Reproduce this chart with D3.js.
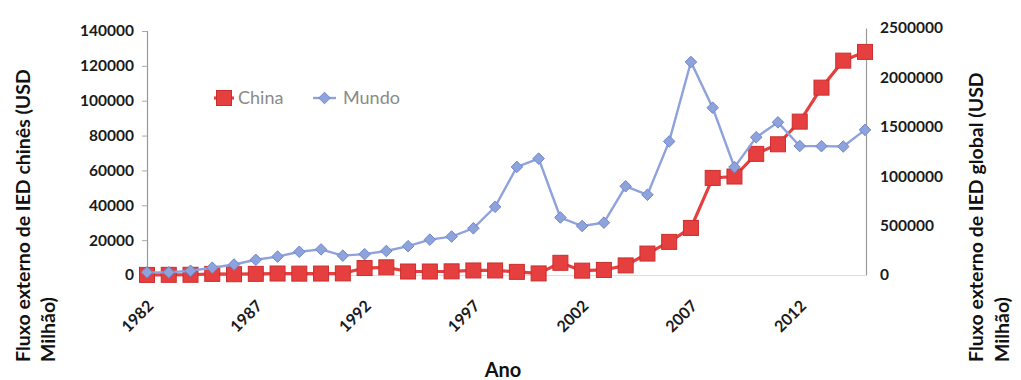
<!DOCTYPE html>
<html>
<head>
<meta charset="utf-8">
<script src="https://cdn.jsdelivr.net/npm/d3@7"></script>
<style>
  html, body { margin: 0; padding: 0; background: #fff; }
  svg { display: block; }
</style>
</head>
<body>
<div id="chart"></div>
<script>
// Outward FDI flows: China (left axis) vs. world (right axis), USD million
const years = [1982, 1983, 1984, 1985, 1986, 1987, 1988, 1989, 1990, 1991,
               1992, 1993, 1994, 1995, 1996, 1997, 1998, 1999, 2000, 2001,
               2002, 2003, 2004, 2005, 2006, 2007, 2008, 2009, 2010, 2011,
               2012, 2013, 2014, 2015];

const china = [50, 100, 130, 630, 450, 650, 850, 780, 830, 910,
               4000, 4400, 2000, 2000, 2100, 2600, 2600, 1800, 900, 7000,
               2500, 2900, 5500, 12300, 19000, 27000, 55700, 56500, 69500, 75000,
               88000, 107500, 123000, 128000];

const mundo = [27000, 27000, 43000, 74000, 106000, 154000, 186000, 235000, 259000, 196000,
               211000, 243000, 292000, 358000, 389000, 473000, 690000, 1094000, 1178000, 582000,
               496000, 530000, 898000, 812000, 1352000, 2156000, 1693000, 1092000, 1394000, 1545000,
               1306000, 1304000, 1300000, 1469000];

const leftTicks = [0, 20000, 40000, 60000, 80000, 100000, 120000, 140000];
const rightTicks = [0, 500000, 1000000, 1500000, 2000000, 2500000];
const yearTicks = [1982, 1987, 1992, 1997, 2002, 2007, 2012];

const seriesNames = ["China", "Mundo"];
const leftTitle = ["Fluxo externo de IED chinês (USD", "Milhão)"];
const rightTitle = ["Fluxo externo de IED global (USD", "Milhão)"];
const xTitle = "Ano";

const W = 1021, H = 380;
const plot = { left: 147, right: 865, top: 28, bottom: 275 };

const RED = "#e5403f", RED_DARK = "#cc2e2e";
const BLUE = "#8ea2dc", BLUE_DARK = "#6f87cc";
const FONT = "Lato, 'Open Sans', sans-serif";

const svg = d3.select("#chart").append("svg")
  .attr("width", W).attr("height", H)
  .style("background", "#fff");

const x = d3.scalePoint().domain(years).range([plot.left, plot.right]);
const yL = d3.scaleLinear().domain([0, 140000]).range([plot.bottom, plot.top + 3]);
const yR = d3.scaleLinear().domain([0, 2500000]).range([plot.bottom, plot.top]);

// Left axis
const axL = svg.append("g")
  .attr("transform", `translate(${plot.left},0)`)
  .call(d3.axisLeft(yL).tickValues(leftTicks).tickFormat(d3.format("d")).tickSize(5).tickPadding(8));
axL.select(".domain").attr("stroke", "#999").attr("stroke-width", 1.2);
axL.selectAll(".tick line").attr("stroke", "#aaa");
axL.selectAll(".tick text")
  .attr("font-family", FONT).attr("font-weight", 700).attr("font-size", 15.5).attr("fill", "#1a1a1a");

// Right axis
const axR = svg.append("g")
  .attr("transform", `translate(${plot.right + 1},0)`)
  .call(d3.axisRight(yR).tickValues(rightTicks).tickFormat(d3.format("d")).tickSize(0).tickPadding(14));
axR.select(".domain").attr("stroke", "#999").attr("stroke-width", 1.2);
axR.selectAll(".tick text")
  .attr("font-family", FONT).attr("font-weight", 700).attr("font-size", 15.5).attr("fill", "#1a1a1a");

// Bottom axis
const axB = svg.append("g")
  .attr("transform", `translate(0,${plot.bottom})`)
  .call(d3.axisBottom(x).tickValues(yearTicks).tickSize(0).tickFormat(d3.format("d")));
axB.select(".domain").attr("stroke", "#ddd").attr("stroke-width", 1.2);
axB.selectAll(".tick text")
  .attr("font-family", FONT).attr("font-weight", 700).attr("font-size", 16).attr("fill", "#1a1a1a")
  .attr("text-anchor", "end")
  .attr("dy", 0)
  .attr("y", 0)
  .attr("transform", "translate(7,32) rotate(-45)");

// Lines
const lineL = d3.line().x((d, i) => x(years[i])).y(d => yL(d));
const lineR = d3.line().x((d, i) => x(years[i])).y(d => yR(d));

svg.append("path").datum(china)
  .attr("d", lineL).attr("fill", "none")
  .attr("stroke", RED).attr("stroke-width", 3.2);

svg.append("g").selectAll("rect").data(china).join("rect")
  .attr("x", (d, i) => x(years[i]) - 7.5)
  .attr("y", d => yL(d) - 7.5)
  .attr("width", 15).attr("height", 15)
  .attr("fill", RED).attr("stroke", RED_DARK).attr("stroke-width", 1);

svg.append("path").datum(mundo)
  .attr("d", lineR).attr("fill", "none")
  .attr("stroke", BLUE).attr("stroke-width", 2.4);

const diamond = d3.symbol().type(d3.symbolDiamond2).size(85);
svg.append("g").selectAll("path").data(mundo).join("path")
  .attr("d", diamond)
  .attr("transform", (d, i) => `translate(${x(years[i])},${yR(d)})`)
  .attr("fill", BLUE).attr("stroke", BLUE_DARK).attr("stroke-width", 1);

// Legend
const lg = svg.append("g").attr("font-family", FONT).attr("font-size", 18).attr("fill", "#8a8a8a");
lg.append("line").attr("x1", 214).attr("x2", 234).attr("y1", 98).attr("y2", 98)
  .attr("stroke", RED).attr("stroke-width", 3.2);
lg.append("rect").attr("x", 216.5).attr("y", 90.5).attr("width", 15).attr("height", 15)
  .attr("fill", RED).attr("stroke", RED_DARK);
lg.append("text").attr("x", 238).attr("y", 104).text(seriesNames[0]);
lg.append("line").attr("x1", 313).attr("x2", 336).attr("y1", 98).attr("y2", 98)
  .attr("stroke", BLUE).attr("stroke-width", 2.4);
lg.append("path").attr("d", diamond).attr("transform", "translate(324.5,98)")
  .attr("fill", BLUE).attr("stroke", BLUE_DARK);
lg.append("text").attr("x", 343).attr("y", 104).text(seriesNames[1]);

// Axis titles
function rotatedTitle(lines, baseX, gap, startY) {
  const g = svg.append("g")
    .attr("font-family", FONT).attr("font-weight", 700).attr("font-size", 19.5).attr("fill", "#111");
  lines.forEach((t, i) => {
    g.append("text")
      .attr("transform", `translate(${baseX + i * gap},${startY}) rotate(-90)`)
      .attr("text-anchor", "start")
      .text(t);
  });
}
rotatedTitle(leftTitle, 30, 25, 362);
rotatedTitle(rightTitle, 983, 26, 362);

svg.append("text")
  .attr("x", 503).attr("y", 377)
  .attr("text-anchor", "middle")
  .attr("font-family", FONT).attr("font-weight", 700).attr("font-size", 20).attr("fill", "#111")
  .text(xTitle);
</script>
</body>
</html>
